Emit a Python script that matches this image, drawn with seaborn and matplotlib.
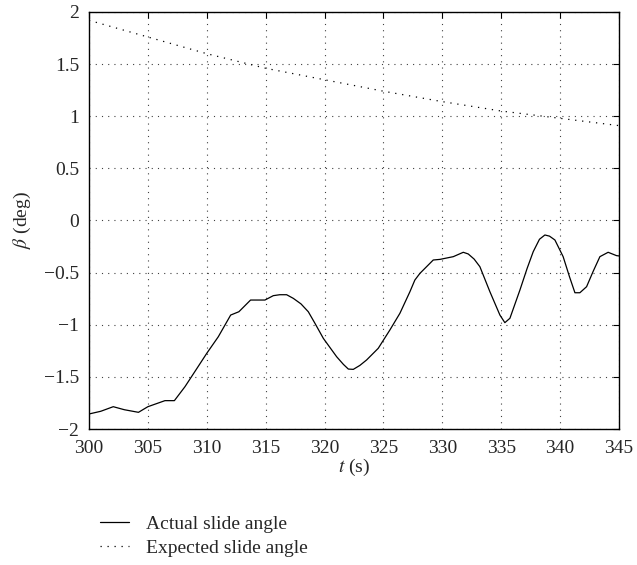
import numpy as np
import pandas as pd
import matplotlib
matplotlib.use("Agg")
import matplotlib.pyplot as plt
import seaborn as sns

# Measured slide angle over time
actual_t = [300.0, 301.0, 302.06, 303.0, 304.2, 305.0, 306.45, 307.25, 308.15, 309.1, 310.0,
            310.98, 312.03, 312.73, 313.72, 314.94, 315.65, 316.2, 316.78, 317.35, 318.0,
            318.62, 319.19, 319.9, 321.03, 321.6, 322.02, 322.44, 323.0, 323.57, 324.56,
            325.55, 326.4, 327.25, 327.67, 328.1, 329.23, 329.8, 330.93, 331.78, 332.2,
            332.7, 333.19, 334.04, 334.89, 335.31, 335.74, 336.59, 337.2, 337.72, 338.25,
            338.71, 339.1, 339.56, 340.26, 340.8, 341.26, 341.68, 342.25, 342.8, 343.38,
            344.08, 344.79, 345.0]
actual_beta = [-1.856, -1.83, -1.786, -1.815, -1.84, -1.786, -1.728, -1.728, -1.594,
               -1.43, -1.274, -1.115, -0.907, -0.875, -0.763, -0.763, -0.721, -0.712,
               -0.712, -0.747, -0.80, -0.875, -0.987, -1.131, -1.307, -1.38, -1.425,
               -1.428, -1.39, -1.338, -1.226, -1.05, -0.89, -0.683, -0.571, -0.507,
               -0.379, -0.373, -0.347, -0.305, -0.321, -0.37, -0.443, -0.683, -0.907,
               -0.98, -0.938, -0.667, -0.46, -0.299, -0.18, -0.139, -0.15, -0.187,
               -0.347, -0.54, -0.693, -0.693, -0.635, -0.49, -0.347, -0.305, -0.337, -0.34]

# Reference (expected) slide angle
expected_t = [300, 305, 310, 315, 320, 325, 330, 335, 340, 345]
expected_beta = [1.92, 1.76, 1.60, 1.46, 1.35, 1.24, 1.14, 1.05, 0.98, 0.91]

x_ticks = [300, 305, 310, 315, 320, 325, 330, 335, 340, 345]
y_ticks = [-2, -1.5, -1, -0.5, 0, 0.5, 1, 1.5, 2]
y_tick_labels = ["\u22122", "\u22121.5", "\u22121", "\u22120.5", "0", "0.5", "1", "1.5", "2"]

sns.set_style("white")
plt.rcParams["font.family"] = ["Liberation Serif", "DejaVu Serif"]
plt.rcParams["mathtext.fontset"] = "stix"

fig = plt.figure(figsize=(6.37, 5.65), dpi=100)
ax = fig.add_axes([0.1397, 0.2407, 0.832, 0.7381])

df_act = pd.DataFrame({"t": actual_t, "beta": actual_beta})
df_exp = pd.DataFrame({"t": expected_t, "beta": expected_beta})

sns.lineplot(data=df_act, x="t", y="beta", ax=ax, color="black", linewidth=0.9,
             label="Actual slide angle")
sns.lineplot(data=df_exp, x="t", y="beta", ax=ax, color="black", linewidth=0.9,
             linestyle=(0, (1.0, 4.6)), label="Expected slide angle")

ax.set_xlim(300, 345)
ax.set_ylim(-2, 2)
ax.set_xticks(x_ticks)
ax.set_yticks(y_ticks)
ax.set_yticklabels(y_tick_labels)
ax.tick_params(direction="in", length=4, width=0.8, top=True, right=True,
               labelsize=14, color="black")
ax.tick_params(axis="x", pad=8)
ax.tick_params(axis="y", pad=7)
ax.grid(True, color="0.25", linestyle=(0, (1.0, 4.6)), linewidth=0.8)
for s in ax.spines.values():
    s.set_visible(True)
    s.set_color("black")
    s.set_linewidth(1.0)

ax.set_xlabel("$t$ (s)", fontsize=14, labelpad=0)
ax.set_ylabel(r"$\beta$ (deg)", fontsize=14, labelpad=8)

handles, labels = ax.get_legend_handles_labels()
ax.get_legend().remove()
fig.legend(handles, labels, loc="upper left", bbox_to_anchor=(0.157, 0.088),
           frameon=False, fontsize=14, handlelength=1.5, handletextpad=0.85,
           borderpad=0, borderaxespad=0, labelspacing=0.33)

fig.savefig("out.png", dpi=100)
